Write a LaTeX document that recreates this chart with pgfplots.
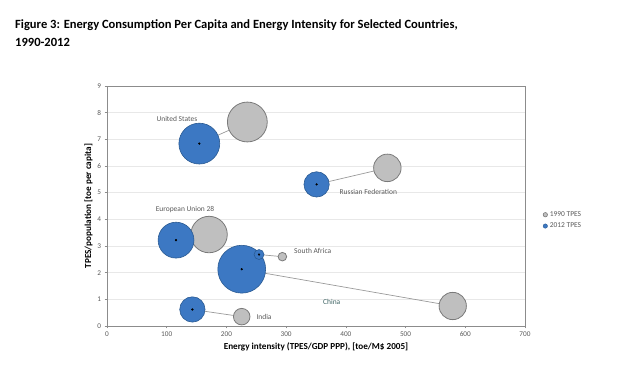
\documentclass[border=0pt]{standalone}
\usepackage{pgfplots}
\pgfplotsset{compat=1.18}
\usepackage{pgfplotstable}
\usepackage{fontspec}
\setmainfont{Carlito}
\definecolor{gfill}{HTML}{BFBFBF}
\definecolor{gdraw}{HTML}{7A7A7A}
\definecolor{bfill}{HTML}{3C78C3}
\definecolor{bdraw}{HTML}{2A5A92}
\definecolor{axisgray}{HTML}{8C8C8C}
\definecolor{gridgray}{HTML}{E8E8E8}
\definecolor{txt}{HTML}{595959}
\definecolor{conn}{HTML}{9A9A9A}
\pgfplotstableread{
x y r
154.6 6.84 20.5
351 5.31 12.7
115.6 3.22 18
225.6 2.13 24
254.6 2.68 5
143 0.62 12.7
}\newdata
\pgfplotstableread{
x y r
235 7.65 20
469.5 5.93 13.8
170.9 3.43 18.3
579 0.75 13.7
293.7 2.6 4.3
225.6 0.35 8.3
}\olddata
\begin{document}
\begin{tikzpicture}
\useasboundingbox (0,0) rectangle (635bp,374bp);
\node[anchor=base west, font=\fontsize{12.6}{14}\selectfont\bfseries, inner sep=0] at (15bp,374bp-29bp) {Figure 3: Energy Consumption Per Capita and Energy Intensity for Selected Countries,};
\node[anchor=base west, font=\fontsize{12.6}{14}\selectfont\bfseries, inner sep=0] at (15bp,374bp-47bp) {1990-2012};
\begin{axis}[
  scale only axis, width=418bp, height=240bp,
  at={(107bp,48bp)}, anchor=south west,
  xmin=0, xmax=700, ymin=0, ymax=9,
  xtick={0,100,...,700}, ytick={0,1,...,9},
  axis line style={axisgray, line width=0.6pt},
  tick style={axisgray, line width=0.5pt},
  tick align=outside, major tick length=2.5bp,
  xtick pos=bottom, ytick pos=left,
  ymajorgrids, grid style={gridgray, line width=0.6pt},
  tick label style={font=\fontsize{7.3}{8}\selectfont, text=txt},
  /pgf/number format/assume math mode=true,
  xlabel={\textbf{Energy intensity (TPES/GDP PPP), [toe/M\$ 2005]}},
  ylabel={\textbf{TPES/population [toe per capita]}},
  label style={font=\fontsize{9.2}{10}\selectfont},
  xlabel style={yshift=1bp},
  ylabel style={yshift=-2bp},
  clip=false,
  legend style={draw=none, fill=none, at={(1.035,0.44)}, anchor=west, font=\fontsize{7.5}{8}\selectfont, text=txt, row sep=1pt, legend cell align=left},
  legend image code/.code={\draw[#1] (0.12cm,0cm) circle (2.2bp);},
]
\addlegendimage{draw=gdraw, fill=gfill, line width=0.6pt}
\addlegendentry{1990 TPES}
\addlegendimage{draw=bdraw, fill=bfill, line width=0.4pt}
\addlegendentry{2012 TPES}
\addplot[forget plot, scatter, only marks, mark=*, line width=0.8pt,
  scatter/use mapped color={draw=gdraw, fill=gfill},
  visualization depends on={\thisrow{r} \as \rr},
  scatter/@pre marker code/.append style={/tikz/mark size=\rr}] table[x=x,y=y] {\olddata};
\addplot[forget plot, scatter, only marks, mark=*, line width=0.6pt,
  scatter/use mapped color={draw=bdraw, fill=bfill},
  visualization depends on={\thisrow{r} \as \rr},
  scatter/@pre marker code/.append style={/tikz/mark size=\rr}] table[x=x,y=y] {\newdata};
\addplot[forget plot, conn, line width=0.7pt] coordinates {(154.6,6.84) (235,7.65)};
\addplot[forget plot, conn, line width=0.7pt] coordinates {(351,5.31) (469.5,5.93)};
\addplot[forget plot, conn, line width=0.7pt] coordinates {(115.6,3.22) (170.9,3.43)};
\addplot[forget plot, conn, line width=0.7pt] coordinates {(225.6,2.13) (579,0.75)};
\addplot[forget plot, conn, line width=0.7pt] coordinates {(254.6,2.68) (293.7,2.6)};
\addplot[forget plot, conn, line width=0.7pt] coordinates {(143,0.62) (225.6,0.35)};
\addplot[forget plot, only marks, mark=*, mark size=0.9bp, black] table[x=x,y=y] {\newdata};
\begin{scope}[every node/.style={font=\fontsize{7.5}{8}\selectfont, text=txt}]
\node at (axis cs:117,7.76) {United States};
\node at (axis cs:130.6,4.375) {European Union 28};
\node at (axis cs:437.6,5.03) {Russian Federation};
\node at (axis cs:344.5,2.80) {South Africa};
\node[text=txt!70!teal] at (axis cs:376.3,0.90) {China};
\node at (axis cs:263,0.35) {India};
\end{scope}
\end{axis}
\end{tikzpicture}
\end{document}
